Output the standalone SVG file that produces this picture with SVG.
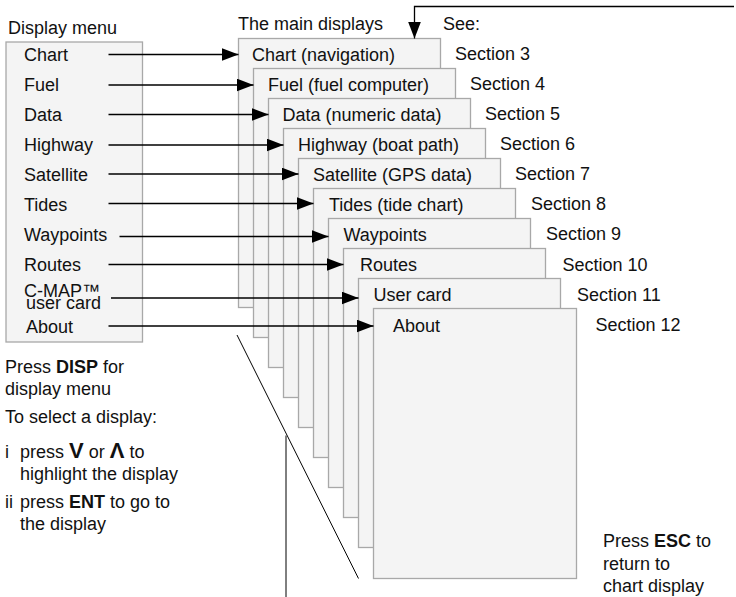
<svg xmlns="http://www.w3.org/2000/svg" width="736" height="597" viewBox="0 0 736 597">
<style>
text{font-family:"Liberation Sans",Arial,sans-serif;font-size:18px;fill:#111}
.b{font-weight:bold}
.box{fill:#f4f4f4;stroke:#a8a8a8;stroke-width:1.3}
.conn{fill:none;stroke:#000;stroke-width:1.3}
.thin{fill:none;stroke:#000;stroke-width:1}
</style>
<defs>
<marker id="ah" markerUnits="userSpaceOnUse" markerWidth="18" markerHeight="14" refX="17" refY="6.5" orient="auto">
<path d="M0,0 L17,6.5 L0,13 Z" fill="#000"/>
</marker>
</defs>
<rect width="736" height="597" fill="#fff"/>

<g id="menu">
<text x="8" y="34">Display menu</text>
<rect class="box" x="6" y="42" width="136.5" height="300"/>
<text x="24" y="61">Chart</text>
<text x="24" y="91">Fuel</text>
<text x="24" y="121">Data</text>
<text x="24" y="151">Highway</text>
<text x="24" y="181">Satellite</text>
<text x="24" y="211">Tides</text>
<text x="24" y="241">Waypoints</text>
<text x="24" y="271">Routes</text>
<text x="24" y="297">C-MAP™</text>
<text x="26" y="308.5">user card</text>
<text x="26" y="333">About</text>
</g>

<g id="titles">
<text x="238" y="30">The main displays</text>
<text x="443" y="30">See:</text>
</g>

<g id="card-chart"><rect class="box" x="238.5" y="38.5" width="202" height="269"/><text x="252" y="61">Chart (navigation)</text><text x="455" y="60">Section 3</text></g>
<g id="card-fuel"><rect class="box" x="253.5" y="68.5" width="202" height="269"/><text x="268" y="91">Fuel (fuel computer)</text><text x="470" y="90">Section 4</text></g>
<g id="card-data"><rect class="box" x="268.5" y="98.5" width="202" height="269"/><text x="282.5" y="121">Data (numeric data)</text><text x="485" y="120">Section 5</text></g>
<g id="card-highway"><rect class="box" x="283.5" y="128.5" width="202" height="269"/><text x="298" y="151">Highway (boat path)</text><text x="500" y="150">Section 6</text></g>
<g id="card-satellite"><rect class="box" x="298.5" y="158.5" width="202" height="269"/><text x="313" y="181">Satellite (GPS data)</text><text x="515" y="180">Section 7</text></g>
<g id="card-tides"><rect class="box" x="313.5" y="188.5" width="202" height="269"/><text x="329" y="210.5">Tides (tide chart)</text><text x="531" y="210">Section 8</text></g>
<g id="card-waypoints"><rect class="box" x="328.5" y="218.5" width="202" height="269"/><text x="343.5" y="240.5">Waypoints</text><text x="546" y="240">Section 9</text></g>
<g id="card-routes"><rect class="box" x="343.5" y="248.5" width="202" height="269"/><text x="360" y="270.5">Routes</text><text x="562.5" y="270.5">Section 10</text></g>
<g id="card-usercard"><rect class="box" x="358.5" y="278.5" width="202" height="269"/><text x="373.5" y="300.5">User card</text><text x="577" y="300.5">Section 11</text></g>
<g id="card-about"><rect class="box" x="373.5" y="308.5" width="203" height="270"/><text x="393" y="331.5">About</text><text x="595.5" y="331">Section 12</text></g>

<g id="connectors">
<line class="conn" x1="108.5" y1="54.5" x2="238.5" y2="54.5" marker-end="url(#ah)"/>
<line class="conn" x1="108.5" y1="85" x2="253.5" y2="85" marker-end="url(#ah)"/>
<line class="conn" x1="108.5" y1="114.5" x2="268.5" y2="114.5" marker-end="url(#ah)"/>
<line class="conn" x1="108.5" y1="145" x2="283.5" y2="145" marker-end="url(#ah)"/>
<line class="conn" x1="108.5" y1="174" x2="298.5" y2="174" marker-end="url(#ah)"/>
<line class="conn" x1="108.5" y1="203.5" x2="313.5" y2="203.5" marker-end="url(#ah)"/>
<line class="conn" x1="119.5" y1="236.5" x2="328.5" y2="236.5" marker-end="url(#ah)"/>
<line class="conn" x1="108.5" y1="264.5" x2="343.5" y2="264.5" marker-end="url(#ah)"/>
<line class="conn" x1="111" y1="298" x2="358.5" y2="298" marker-end="url(#ah)"/>
<line class="conn" x1="108.5" y1="326" x2="373.5" y2="326" marker-end="url(#ah)"/>
<polyline class="conn" points="734,6.5 414.5,6.5 414.5,38.5" marker-end="url(#ah)"/>
<line class="thin" x1="237" y1="335" x2="358.5" y2="578.5"/>
<line class="thin" x1="286" y1="435.5" x2="286" y2="597"/>
</g>

<g id="notes">
<text x="5" y="373">Press <tspan class="b">DISP</tspan> for</text>
<text x="5" y="395">display menu</text>
<text x="5" y="423">To select a display:</text>
<text x="5" y="458">i</text>
<text x="20" y="458">press <tspan class="b" font-size="22">V</tspan> or <tspan class="b" font-size="22">Λ</tspan> to</text>
<text x="20" y="480">highlight the display</text>
<text x="5" y="508">ii</text>
<text x="20" y="508">press <tspan class="b">ENT</tspan> to go to</text>
<text x="20" y="530">the display</text>
<text x="603" y="547">Press <tspan class="b">ESC</tspan> to</text>
<text x="603" y="570">return to</text>
<text x="603" y="592">chart display</text>
</g>
</svg>
